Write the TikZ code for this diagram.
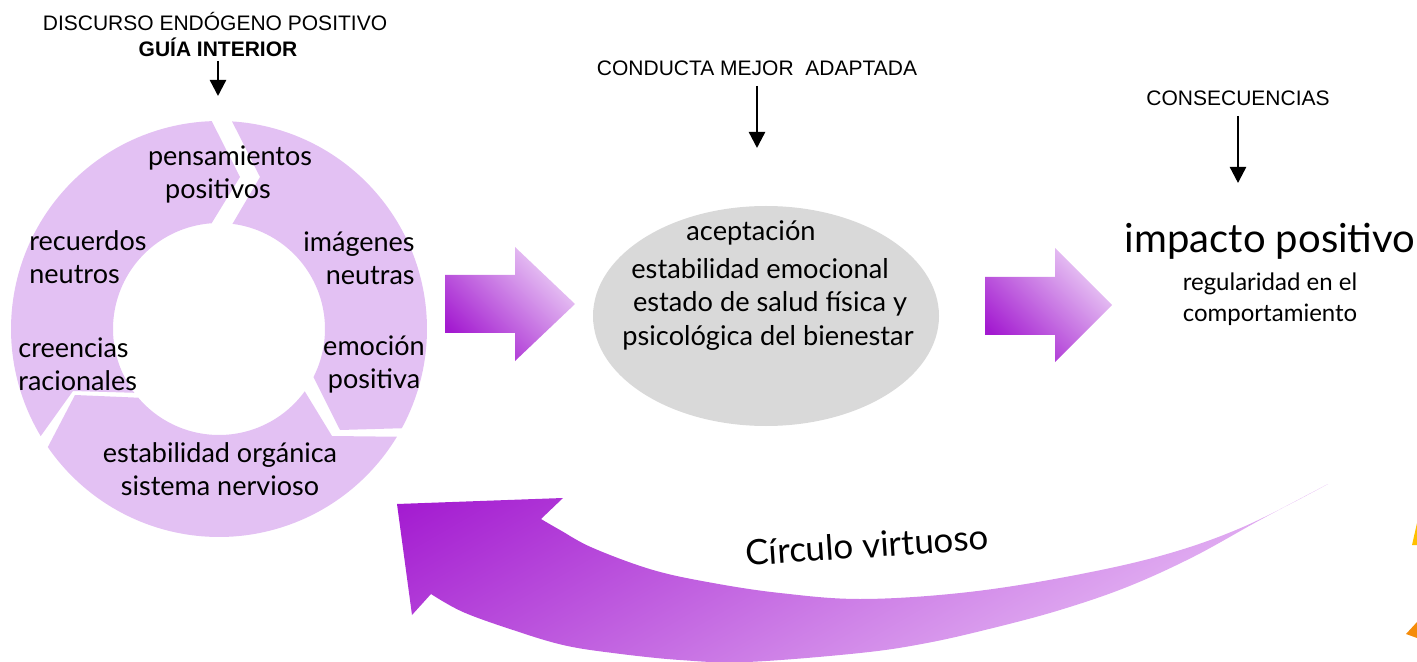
\documentclass[tikz,border=0pt]{standalone}
\usepackage{fontspec}
\setmainfont{Lato}
\newfontfamily\arialfont{Liberation Sans}
\usetikzlibrary{arrows.meta,shapes.geometric}
\definecolor{ringc}{RGB}{227,193,243}
\definecolor{pdark}{RGB}{163,26,208}
\definecolor{plight}{RGB}{236,208,246}
\definecolor{ptail}{RGB}{230,186,244}
\definecolor{ellc}{RGB}{217,217,217}
\definecolor{yel}{RGB}{255,192,0}
\definecolor{ora}{RGB}{245,140,10}
\begin{document}
\begin{tikzpicture}[x=0.5pt,y=-0.5pt,
  rtext/.style={font=\fontsize{13.5}{16.5}\selectfont, align=center, inner sep=0pt},
  etext/.style={font=\fontsize{13.6}{17}\selectfont, inner sep=0pt},
  lab/.style={font=\arialfont\fontsize{10.5}{12.5}\selectfont, inner sep=2pt},
  blk/.style={-{Triangle[length=8pt,width=8pt]}, line width=1.2pt},
  barrow/.style={left color=pdark, right color=plight, shading angle=135}]
\useasboundingbox (0,0) rectangle (1417,662);

% ring segments
\fill[ringc] plot[domain=-86.4:28.5, samples=80] ({219+208*cos(\x)},{329+208*sin(\x)})
  -- (340,430) -- plot[domain=27:-82.7, samples=80] ({219+106*cos(\x)},{329+106*sin(\x)})
  -- (260,177) -- cycle;
\fill[ringc] plot[domain=31.2:145.4, samples=80] ({219+208*cos(\x)},{329+208*sin(\x)})
  -- (75,395) -- plot[domain=139.6:36, samples=80] ({219+106*cos(\x)},{329+106*sin(\x)})
  -- (332,436) -- cycle;
\fill[ringc] plot[domain=149:268, samples=80] ({219+208*cos(\x)},{329+208*sin(\x)})
  -- (240,177) -- plot[domain=266:143, samples=80] ({219+106*cos(\x)},{329+106*sin(\x)})
  -- (73,391) -- cycle;

\node[rtext] (pens) at (230,174) {pensamientos\\positivos\hspace*{12pt}};
\node[rtext, align=left, anchor=west] (recu) at (29,257) {recuerdos\\neutros};
\node[rtext, align=right, anchor=east] (imag) at (415,258) {imágenes\\neutras};
\node[rtext, align=left, anchor=west] (cree) at (18,364) {creencias\\racionales};
\node[rtext] (emoc) at (374,364) {emoción\\positiva};
\node[rtext] (esta) at (220,469) {estabilidad orgánica\\sistema nervioso};

% top labels
\node[lab] (disc) at (215,22) {DISCURSO ENDÓGENO POSITIVO};
\node[lab, font=\arialfont\bfseries\fontsize{10.5}{12.5}\selectfont] (guia) at (218,47) {GUÍA INTERIOR};
\coordinate (guiatip) at (218,96);
\draw[blk] (guia.south) -- (guiatip);

\node[lab] (cond) at (757,68) {CONDUCTA MEJOR\ \ ADAPTADA};
\coordinate (condtip) at (757,148);
\draw[blk, shorten <=3pt] (cond.south) -- (condtip);

\node[lab] (cons) at (1238,98) {CONSECUENCIAS};
\coordinate (constip) at (1238,183);
\draw[blk, shorten <=3pt] (cons.south) -- (constip);

% block arrows
\shade[barrow] (445,275) -- (515,275) -- (515,247) -- (575,304) -- (515,361) -- (515,333) -- (445,333) -- cycle;
\shade[barrow] (985,277) -- (1055,277) -- (1055,248) -- (1112,305) -- (1055,362) -- (1055,335) -- (985,335) -- cycle;

% ellipse
\node[ellipse, fill=ellc, minimum width=173pt, minimum height=110pt, inner sep=0pt] (ell) at (766,316) {};
\node[etext] (e1) at (751,233) {aceptación};
\node[etext] (e2) at (760,269) {estabilidad emocional};
\node[etext] (e3) at (770,304) {estado de salud física y};
\node[etext] (e4) at (768,338) {psicológica del bienestar};

% consequences
\node[inner sep=0pt, font=\fontsize{20}{24}\selectfont] (imp) at (1270,241) {impacto positivo};
\node[inner sep=0pt, font=\fontsize{12}{15.5}\selectfont, align=center] (reg) at (1270,299) {regularidad en el\\comportamiento};

% big curved arrow
\begin{scope}
\clip (397,504) -- (563,498) -- (541,519)
  -- plot[smooth, tension=0.6] coordinates {(541,519) (560,530) (593,548) (653,570) (713,583) (780,593) (860,599) (960,593) (1060,578) (1160,556) (1243,527) (1328,484)}
  -- plot[smooth, tension=0.6] coordinates {(1328,484) (1260,520) (1193,557) (1127,587) (1060,610) (993,628) (927,643) (860,653) (747,662) (680,660) (613,653) (563,645) (513,630) (463,612) (431,594)}
  -- (412,615) -- cycle;
\begin{scope}[transform canvas={rotate around={30:(862,580)}}]
\shade[top color=pdark, bottom color=ptail] (162,280) rectangle (1562,780);
\end{scope}
\end{scope}
\node[rotate=3.8, inner sep=0pt, font=\fontsize{17.5}{21}\selectfont] (circ) at (867,545) {Círculo virtuoso};

% cut-off orange shapes at right edge
\fill[yel] (1412,545) -- (1417,523) -- (1417,545) -- cycle;
\fill[ora] (1406,634) -- (1417,622) -- (1417,638) -- cycle;
\end{tikzpicture}
\end{document}
